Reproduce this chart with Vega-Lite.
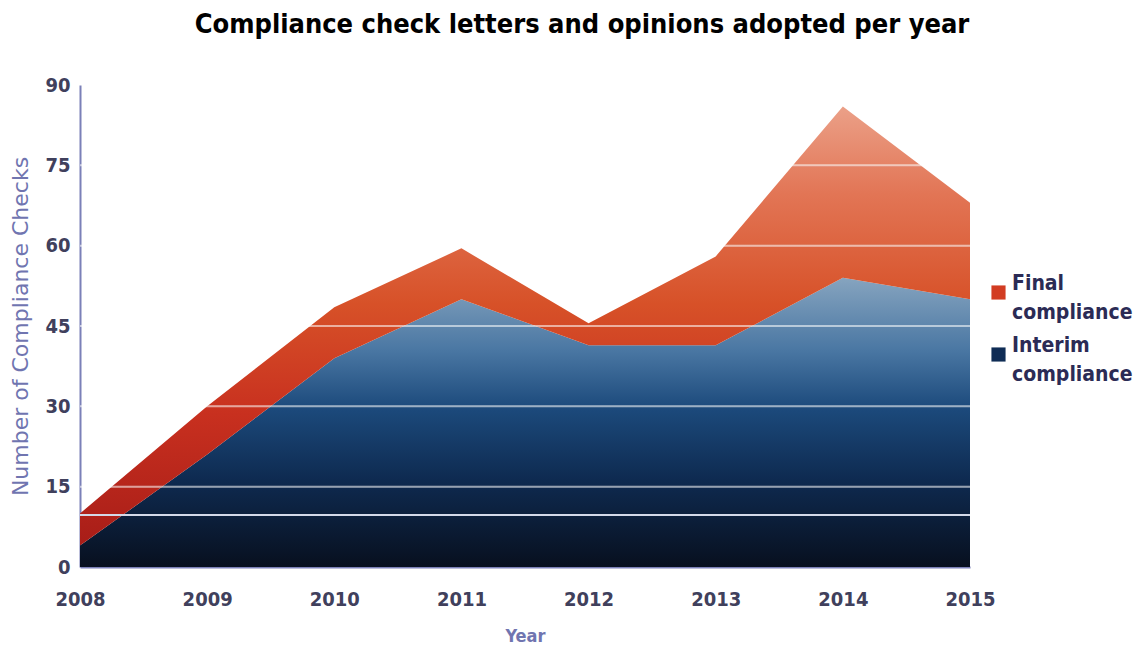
{
  "$schema": "https://vega.github.io/schema/vega-lite/v6.json",
  "width": 890,
  "height": 482,
  "autosize": "none",
  "padding": {"left": 80, "top": 85, "right": 176, "bottom": 82},
  "background": "white",
  "title": {
    "text": "Compliance check letters and opinions adopted per year",
    "font": "DejaVu Sans Condensed",
    "fontWeight": "bold",
    "fontSize": 27,
    "color": "#000000",
    "anchor": "middle",
    "frame": "group",
    "dx": 57,
    "offset": 36
  },
  "config": {
    "view": {"stroke": null},
    "axis": {"labelFont": "DejaVu Sans Condensed", "titleFont": "DejaVu Sans"}
  },
  "data": {
    "values": [
      {"Year": 2008, "Interim compliance": 4, "Final compliance": 6},
      {"Year": 2009, "Interim compliance": 21, "Final compliance": 9},
      {"Year": 2010, "Interim compliance": 39, "Final compliance": 9.5},
      {"Year": 2011, "Interim compliance": 50, "Final compliance": 9.5},
      {"Year": 2012, "Interim compliance": 41.4, "Final compliance": 4.1},
      {"Year": 2013, "Interim compliance": 41.4, "Final compliance": 16.6},
      {"Year": 2014, "Interim compliance": 54, "Final compliance": 32},
      {"Year": 2015, "Interim compliance": 50, "Final compliance": 18}
    ]
  },
  "layer": [
    {
      "transform": [
        {"fold": ["Final compliance", "Interim compliance"], "as": ["series", "value"]},
        {"stack": "value", "groupby": ["Year"], "sort": [{"field": "series", "order": "descending"}], "as": ["y0", "y1"]},
        {"filter": "datum.series === 'Interim compliance'"}
      ],
      "mark": {
        "type": "area",
        "interpolate": "linear",
        "fillOpacity": 1,
        "color": {
          "gradient": "linear", "x1": 0, "y1": 0, "x2": 0, "y2": 1,
          "stops": [
            {"offset": 0, "color": "#86a4bf"},
            {"offset": 0.25, "color": "#4a77a3"},
            {"offset": 0.45, "color": "#1c4a7c"},
            {"offset": 0.7, "color": "#0e2a50"},
            {"offset": 1, "color": "#08101f"}
          ]
        }
      },
      "encoding": {
        "x": {
          "field": "Year", "type": "quantitative",
          "scale": {"domain": [2008, 2015], "nice": false, "zero": false},
          "axis": {
            "title": "Year", "format": "d", "values": [2008, 2009, 2010, 2011, 2012, 2013, 2014, 2015],
            "grid": false, "ticks": false, "labelFlush": false, "labelOverlap": false,
            "labelFontSize": 20, "labelFontWeight": "bold", "labelColor": "#40405c", "labelPadding": 22,
            "titleFontSize": 18, "titleColor": "#7075b0", "titleFontWeight": "bold", "titleFont": "DejaVu Sans Condensed", "titlePadding": 18,
            "domainColor": "#7b80b8", "domainWidth": 2
          }
        },
        "y": {
          "field": "y1", "type": "quantitative",
          "scale": {"domain": [0, 90], "nice": false},
          "axis": {
            "title": "Number of Compliance Checks", "values": [0, 15, 30, 45, 60, 75, 90],
            "grid": false, "ticks": false,
            "labelFontSize": 20, "labelFontWeight": "bold", "labelColor": "#40405c", "labelPadding": 10,
            "titleFontSize": 22, "titleColor": "#7075b0", "titleFontWeight": "normal", "titlePadding": 12,
            "domainColor": "#7b80b8", "domainWidth": 2
          }
        },
        "y2": {"field": "y0"}
      }
    },
    {
      "transform": [
        {"fold": ["Final compliance", "Interim compliance"], "as": ["series", "value"]},
        {"stack": "value", "groupby": ["Year"], "sort": [{"field": "series", "order": "descending"}], "as": ["y0", "y1"]},
        {"filter": "datum.series === 'Final compliance'"}
      ],
      "mark": {
        "type": "area",
        "interpolate": "linear",
        "fillOpacity": 1,
        "color": {
          "gradient": "linear", "x1": 0, "y1": 0, "x2": 0, "y2": 1,
          "stops": [
            {"offset": 0, "color": "#eba088"},
            {"offset": 0.2, "color": "#e27555"},
            {"offset": 0.45, "color": "#d75128"},
            {"offset": 0.7, "color": "#c8301f"},
            {"offset": 1, "color": "#a81d18"}
          ]
        }
      },
      "encoding": {
        "x": {"field": "Year", "type": "quantitative"},
        "y": {"field": "y1", "type": "quantitative"},
        "y2": {"field": "y0"}
      }
    },
    {"mark": {"type": "rule", "color": "#ffffff", "opacity": 0.1, "strokeWidth": 2}, "encoding": {"y": {"datum": 15}}},
    {"mark": {"type": "rule", "color": "#ffffff", "opacity": 0.1, "strokeWidth": 2}, "encoding": {"y": {"datum": 30}}},
    {"mark": {"type": "rule", "color": "#ffffff", "opacity": 0.1, "strokeWidth": 2}, "encoding": {"y": {"datum": 45}}},
    {"mark": {"type": "rule", "color": "#ffffff", "opacity": 0.1, "strokeWidth": 2}, "encoding": {"y": {"datum": 60}}},
    {"mark": {"type": "rule", "color": "#ffffff", "opacity": 0.1, "strokeWidth": 2}, "encoding": {"y": {"datum": 75}}},
    {"mark": {"type": "rule", "color": "#d3d9e8", "opacity": 1, "strokeWidth": 2}, "encoding": {"y": {"datum": 9.7}}},
    {
      "transform": [
        {"fold": ["Final compliance", "Interim compliance"], "as": ["series", "value"]}
      ],
      "mark": {"type": "point", "shape": "square", "filled": true, "opacity": 0},
      "encoding": {
        "x": {"field": "Year", "type": "quantitative"},
        "y": {"field": "value", "type": "quantitative"},
        "color": {
          "field": "series", "type": "nominal",
          "scale": {"domain": ["Final compliance", "Interim compliance"], "range": ["#d23c22", "#0f2c55"]},
          "legend": {
            "title": null, "orient": "none", "legendX": 908, "legendY": 197,
            "symbolType": "square", "symbolSize": 200, "symbolOpacity": 1,
            "labelFont": "DejaVu Sans Condensed", "labelFontSize": 21, "labelFontWeight": "bold", "labelColor": "#2b2b55",
            "labelExpr": "split(datum.label, ' ')", "labelOffset": 3, "rowPadding": 11,
            "labelLimit": 300,
            "encode": {"labels": {"update": {"dy": {"value": -9}, "lineHeight": {"value": 29}}}}
          }
        }
      }
    }
  ]
}
